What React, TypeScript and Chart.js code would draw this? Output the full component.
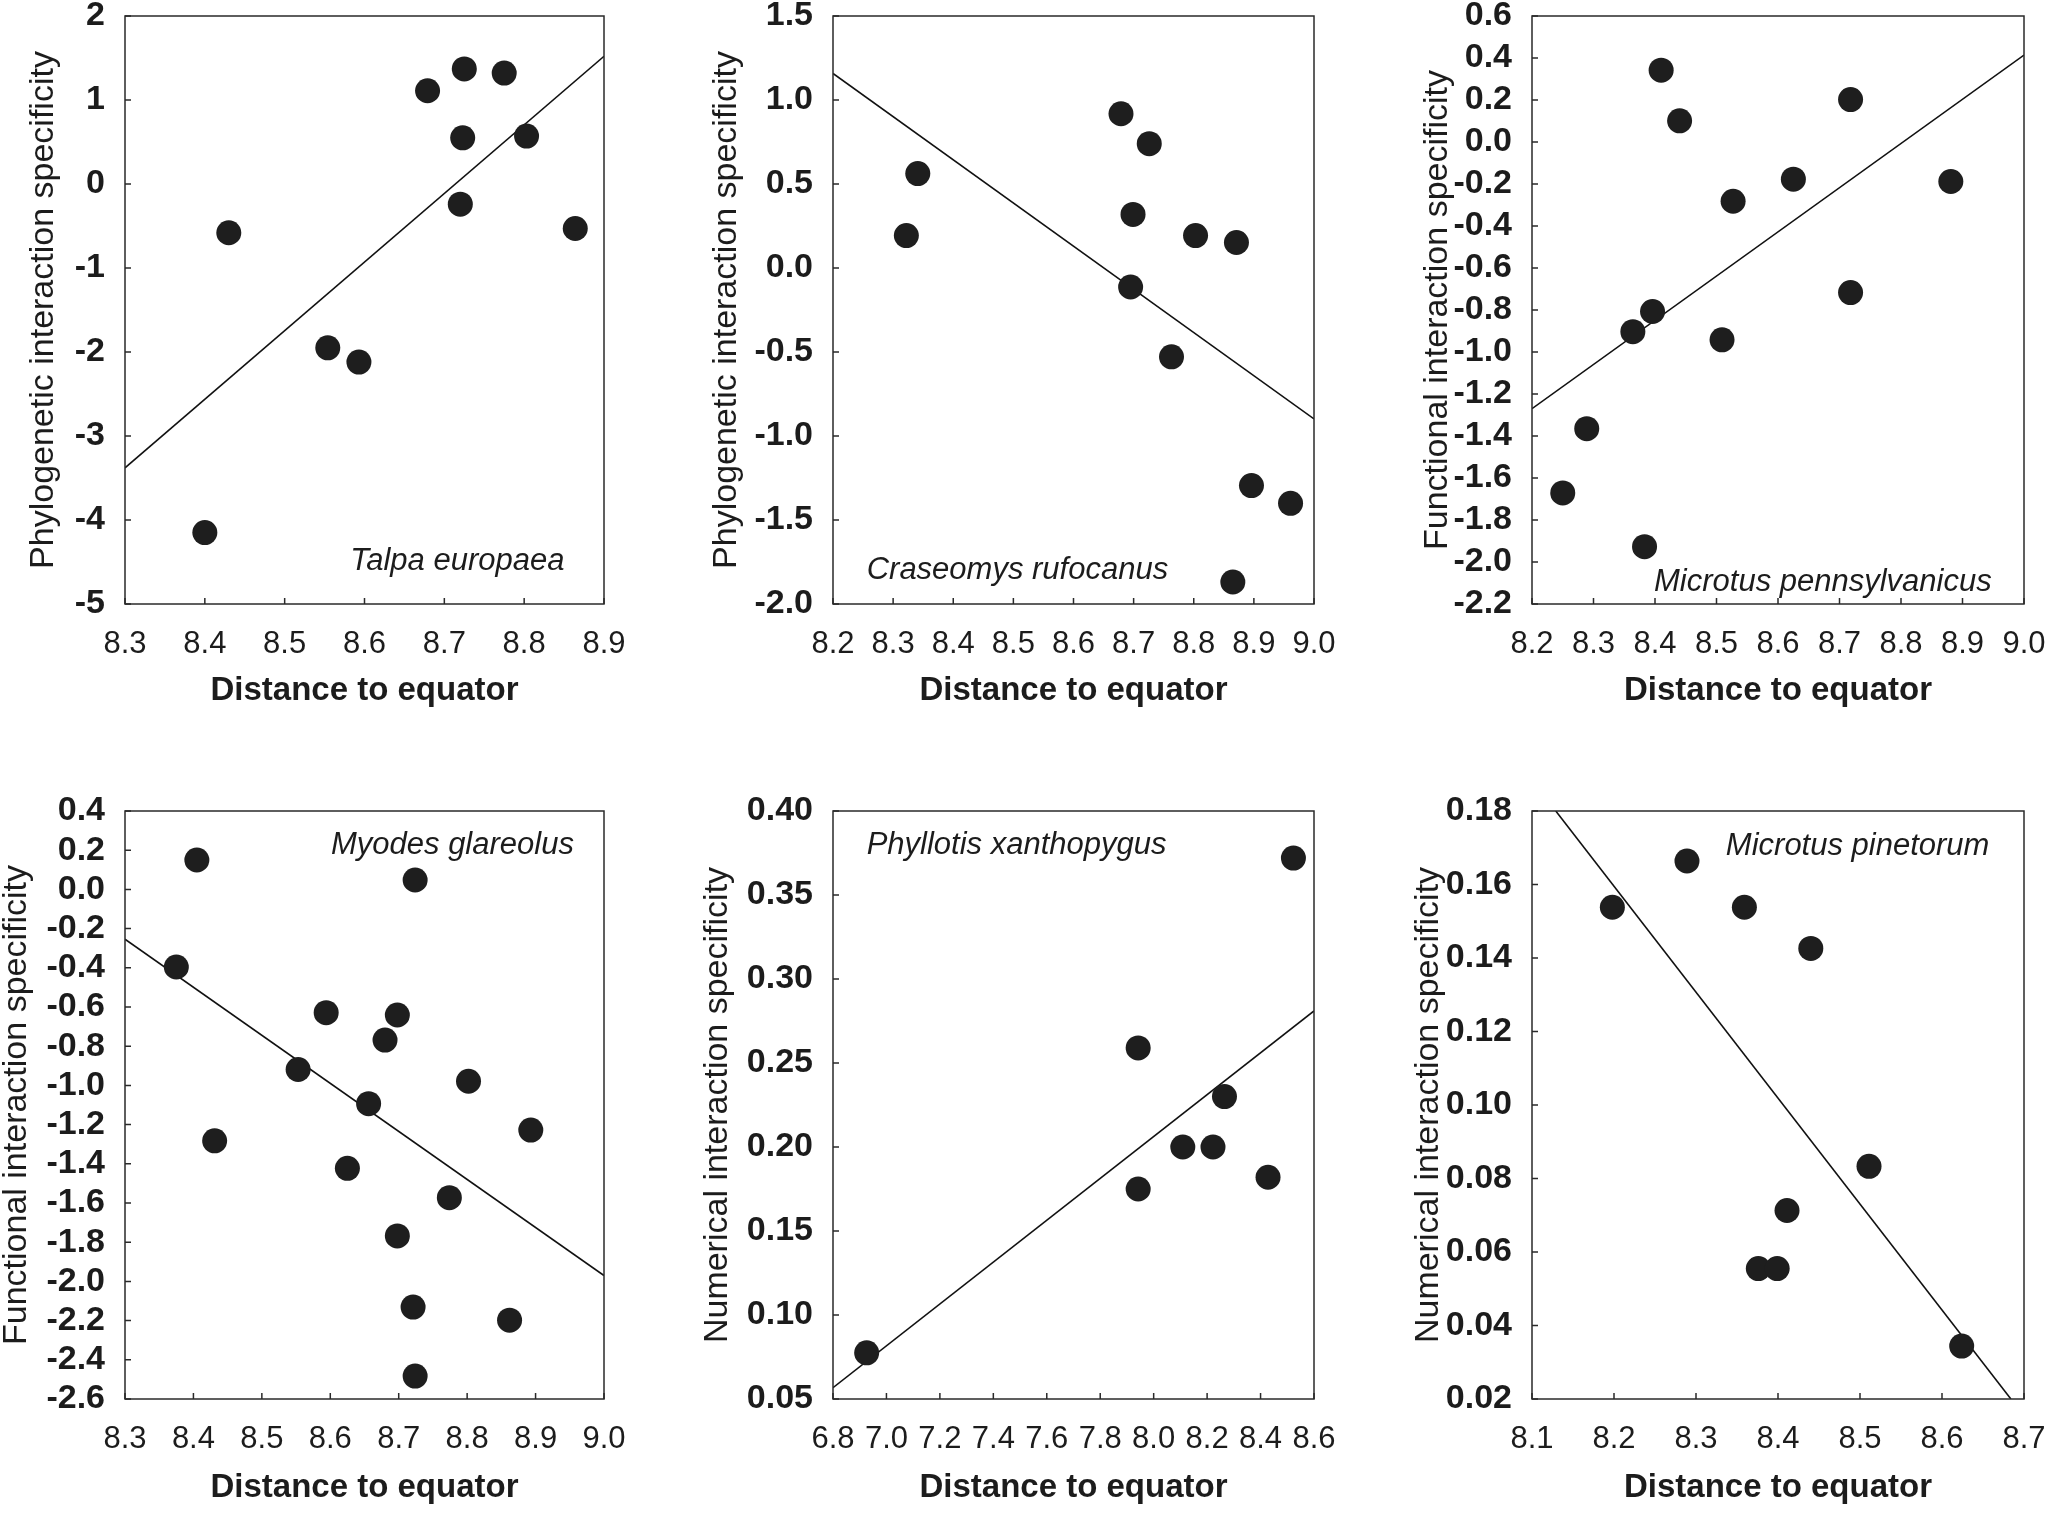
import React, { useEffect, useRef } from "react";
import { Chart, registerables } from "chart.js";

Chart.register(...registerables);

const FONT = '"Liberation Sans", Arial, Helvetica, sans-serif';
const INK = "#1c1c1c";
const X_TITLE = "Distance to equator";

// Talpa europaea
const talpaX = [8.43, 8.40, 8.554, 8.593, 8.679, 8.725, 8.775, 8.723, 8.72, 8.803, 8.864];
const talpaY = [-0.58, -4.15, -1.95, -2.12, 1.11, 1.37, 1.32, 0.55, -0.24, 0.57, -0.53];
const talpaFitX = [8.3, 8.9];
const talpaFitY = [-3.38, 1.52];
const talpaXTicks = [8.3, 8.4, 8.5, 8.6, 8.7, 8.8, 8.9];
const talpaYTicks = [-5, -4, -3, -2, -1, 0, 1, 2];

// Craseomys rufocanus
const craseoX = [8.322, 8.341, 8.679, 8.726, 8.699, 8.695, 8.803, 8.871, 8.763, 8.896, 8.961, 8.865];
const craseoY = [0.193, 0.562, 0.918, 0.74, 0.319, -0.113, 0.193, 0.152, -0.529, -1.295, -1.401, -1.869];
const craseoFitX = [8.2, 9.0];
const craseoFitY = [1.158, -0.898];
const craseoXTicks = [8.2, 8.3, 8.4, 8.5, 8.6, 8.7, 8.8, 8.9, 9.0];
const craseoYTicks = [-2.0, -1.5, -1.0, -0.5, 0.0, 0.5, 1.0, 1.5];

// Microtus pennsylvanicus
const pennX = [8.41, 8.44, 8.718, 8.625, 8.527, 8.881, 8.718, 8.396, 8.364, 8.509, 8.289, 8.25, 8.383];
const pennY = [0.342, 0.101, 0.202, -0.177, -0.282, -0.188, -0.717, -0.807, -0.903, -0.942, -1.365, -1.671, -1.927];
const pennFitX = [8.2, 9.0];
const pennFitY = [-1.27, 0.414];
const pennXTicks = [8.2, 8.3, 8.4, 8.5, 8.6, 8.7, 8.8, 8.9, 9.0];
const pennYTicks = [-2.2, -2.0, -1.8, -1.6, -1.4, -1.2, -1.0, -0.8, -0.6, -0.4, -0.2, 0.0, 0.2, 0.4, 0.6];

// Myodes glareolus
const myodesX = [8.405, 8.724, 8.375, 8.594, 8.698, 8.68, 8.553, 8.802, 8.656, 8.431, 8.893, 8.625, 8.774, 8.698, 8.721, 8.862, 8.724];
const myodesY = [0.15, 0.048, -0.396, -0.629, -0.641, -0.769, -0.919, -0.979, -1.093, -1.283, -1.228, -1.423, -1.573, -1.768, -2.131, -2.198, -2.483];
const myodesFitX = [8.3, 9.0];
const myodesFitY = [-0.254, -1.97];
const myodesXTicks = [8.3, 8.4, 8.5, 8.6, 8.7, 8.8, 8.9, 9.0];
const myodesYTicks = [-2.6, -2.4, -2.2, -2.0, -1.8, -1.6, -1.4, -1.2, -1.0, -0.8, -0.6, -0.4, -0.2, 0.0, 0.2, 0.4];

// Phyllotis xanthopygus
const phylloX = [6.926, 7.942, 7.942, 8.109, 8.222, 8.265, 8.428, 8.523];
const phylloY = [0.0775, 0.259, 0.175, 0.2, 0.2, 0.23, 0.182, 0.372];
const phylloFitX = [6.8, 8.6];
const phylloFitY = [0.0567, 0.281];
const phylloXTicks = [6.8, 7.0, 7.2, 7.4, 7.6, 7.8, 8.0, 8.2, 8.4, 8.6];
const phylloYTicks = [0.05, 0.1, 0.15, 0.2, 0.25, 0.3, 0.35, 0.4];

// Microtus pinetorum
const pinetX = [8.198, 8.289, 8.359, 8.44, 8.511, 8.411, 8.376, 8.399, 8.624];
const pinetY = [0.1538, 0.1664, 0.1538, 0.1426, 0.0833, 0.0713, 0.0555, 0.0555, 0.0344];
const pinetFitX = [8.129, 8.684];
const pinetFitY = [0.18, 0.02];
const pinetXTicks = [8.1, 8.2, 8.3, 8.4, 8.5, 8.6, 8.7];
const pinetYTicks = [0.02, 0.04, 0.06, 0.08, 0.1, 0.12, 0.14, 0.16, 0.18];

type Spec = {
  xs: number[];
  ys: number[];
  fitX: number[];
  fitY: number[];
  xTicks: number[];
  yTicks: number[];
  xDec: number;
  yDec: number;
  yTitle: string;
  species: string;
};

// Placement of each panel on the page: canvas origin, axis box sizes and plot size.
type Box = {
  left: number;
  top: number;
  yAxisW: number;
  plotW: number;
  padRight: number;
  padTop: number;
  plotH: number;
  xAxisH: number;
  labelFx: number;
  labelFy: number;
};

const specs: Spec[] = [
  { xs: talpaX, ys: talpaY, fitX: talpaFitX, fitY: talpaFitY, xTicks: talpaXTicks, yTicks: talpaYTicks, xDec: 1, yDec: 0, yTitle: "Phylogenetic interaction specificity", species: "Talpa europaea" },
  { xs: craseoX, ys: craseoY, fitX: craseoFitX, fitY: craseoFitY, xTicks: craseoXTicks, yTicks: craseoYTicks, xDec: 1, yDec: 1, yTitle: "Phylogenetic interaction specificity", species: "Craseomys rufocanus" },
  { xs: pennX, ys: pennY, fitX: pennFitX, fitY: pennFitY, xTicks: pennXTicks, yTicks: pennYTicks, xDec: 1, yDec: 1, yTitle: "Functional interaction specificity", species: "Microtus pennsylvanicus" },
  { xs: myodesX, ys: myodesY, fitX: myodesFitX, fitY: myodesFitY, xTicks: myodesXTicks, yTicks: myodesYTicks, xDec: 1, yDec: 1, yTitle: "Functional interaction specificity", species: "Myodes glareolus" },
  { xs: phylloX, ys: phylloY, fitX: phylloFitX, fitY: phylloFitY, xTicks: phylloXTicks, yTicks: phylloYTicks, xDec: 1, yDec: 2, yTitle: "Numerical interaction specificity", species: "Phyllotis xanthopygus" },
  { xs: pinetX, ys: pinetY, fitX: pinetFitX, fitY: pinetFitY, xTicks: pinetXTicks, yTicks: pinetYTicks, xDec: 1, yDec: 2, yTitle: "Numerical interaction specificity", species: "Microtus pinetorum" },
];

const boxes: Box[] = [
  { left: 27, top: -34, yAxisW: 98, plotW: 479, padRight: 70, padTop: 50, plotH: 588, xAxisH: 103, labelFx: 0.47, labelFy: 0.927 },
  { left: 710, top: -34, yAxisW: 123, plotW: 481, padRight: 70, padTop: 50, plotH: 588, xAxisH: 103, labelFx: 0.07, labelFy: 0.942 },
  { left: 1421, top: -34, yAxisW: 111, plotW: 492, padRight: 70, padTop: 50, plotH: 588, xAxisH: 103, labelFx: 0.248, labelFy: 0.964 },
  { left: 0, top: 760, yAxisW: 125, plotW: 479, padRight: 70, padTop: 51, plotH: 588, xAxisH: 105, labelFx: 0.43, labelFy: 0.059 },
  { left: 701, top: 760, yAxisW: 132, plotW: 481, padRight: 70, padTop: 51, plotH: 588, xAxisH: 105, labelFx: 0.07, labelFy: 0.058 },
  { left: 1412, top: 760, yAxisW: 120, plotW: 492, padRight: 70, padTop: 51, plotH: 588, xAxisH: 105, labelFx: 0.394, labelFy: 0.061 },
];

// Closed frame around the plot area, inward tick marks and the species name.
const framePlugin = {
  id: "frame",
  afterDatasetsDraw(chart: any, _args: any, opts: any) {
    const { ctx, chartArea: a, scales } = chart;
    ctx.save();
    ctx.strokeStyle = "#2a2a2a";
    ctx.lineWidth = 1.5;
    ctx.strokeRect(a.left, a.top, a.right - a.left, a.bottom - a.top);
    ctx.beginPath();
    const tick = 6;
    scales.x.ticks.forEach((t: any) => {
      const p = scales.x.getPixelForValue(t.value);
      ctx.moveTo(p, a.bottom);
      ctx.lineTo(p, a.bottom - tick);
    });
    scales.y.ticks.forEach((t: any) => {
      const p = scales.y.getPixelForValue(t.value);
      ctx.moveTo(a.left, p);
      ctx.lineTo(a.left + tick, p);
    });
    ctx.stroke();
    ctx.font = `italic 31px ${FONT}`;
    ctx.fillStyle = INK;
    ctx.textAlign = "left";
    ctx.textBaseline = "middle";
    ctx.fillText(
      opts.species,
      a.left + opts.fx * (a.right - a.left),
      a.top + opts.fy * (a.bottom - a.top)
    );
    ctx.restore();
  },
};

function Panel({ spec, box }: { spec: Spec; box: Box }) {
  const ref = useRef<HTMLCanvasElement | null>(null);
  const width = box.yAxisW + box.plotW + box.padRight;
  const height = box.padTop + box.plotH + box.xAxisH;

  useEffect(() => {
    if (!ref.current) return;
    const points = spec.xs.map((x, i) => ({ x, y: spec.ys[i] }));
    const fit = spec.fitX.map((x, i) => ({ x, y: spec.fitY[i] }));
    const chart = new Chart(ref.current, {
      type: "scatter",
      data: {
        datasets: [
          {
            type: "scatter",
            data: points,
            pointRadius: 12.5,
            pointHoverRadius: 12.5,
            backgroundColor: "#1e1e1e",
            borderColor: "#1e1e1e",
            borderWidth: 0,
          } as any,
          {
            type: "line",
            data: fit,
            borderColor: "#111",
            borderWidth: 1.6,
            pointRadius: 0,
            fill: false,
            tension: 0,
          } as any,
        ],
      },
      options: {
        animation: false,
        responsive: false,
        events: [],
        layout: {
          autoPadding: false,
          padding: { top: box.padTop, right: box.padRight, left: 0, bottom: 0 },
        },
        plugins: {
          legend: { display: false },
          tooltip: { enabled: false },
          frame: { species: spec.species, fx: box.labelFx, fy: box.labelFy },
        } as any,
        scales: {
          x: {
            type: "linear",
            min: spec.xTicks[0],
            max: spec.xTicks[spec.xTicks.length - 1],
            afterBuildTicks: (s: any) => {
              s.ticks = spec.xTicks.map((v) => ({ value: v }));
            },
            afterFit: (s: any) => {
              s.height = box.xAxisH;
            },
            grid: { display: false },
            border: { display: false },
            ticks: {
              padding: 17,
              color: INK,
              autoSkip: false,
              maxRotation: 0,
              font: { family: FONT, size: 31, lineHeight: 1 },
              callback: (v: any) => Number(v).toFixed(spec.xDec),
            },
            title: {
              display: true,
              text: X_TITLE,
              color: INK,
              padding: 0,
              font: { family: FONT, size: 33, weight: "bold", lineHeight: 1 },
            },
          },
          y: {
            type: "linear",
            min: spec.yTicks[0],
            max: spec.yTicks[spec.yTicks.length - 1],
            afterBuildTicks: (s: any) => {
              s.ticks = spec.yTicks.map((v) => ({ value: v }));
            },
            afterFit: (s: any) => {
              s.width = box.yAxisW;
            },
            grid: { display: false },
            border: { display: false },
            ticks: {
              padding: 12,
              color: INK,
              autoSkip: false,
              font: { family: FONT, size: 34, weight: "bold", lineHeight: 1 },
              callback: (v: any) => Number(v).toFixed(spec.yDec),
            },
            title: {
              display: true,
              text: spec.yTitle,
              color: INK,
              padding: 0,
              font: { family: FONT, size: 34, lineHeight: 1 },
            },
          },
        },
      } as any,
      plugins: [framePlugin as any],
    });
    return () => chart.destroy();
  }, [spec, box]);

  return (
    <canvas
      ref={ref}
      width={width}
      height={height}
      style={{ position: "absolute", left: box.left, top: box.top, width, height }}
    />
  );
}

export default function App() {
  return (
    <div
      style={{
        position: "absolute",
        left: 0,
        top: 0,
        width: 2050,
        height: 1513,
        background: "#fff",
        overflow: "hidden",
      }}
    >
      {specs.map((s, i) => (
        <Panel key={i} spec={s} box={boxes[i]} />
      ))}
    </div>
  );
}
